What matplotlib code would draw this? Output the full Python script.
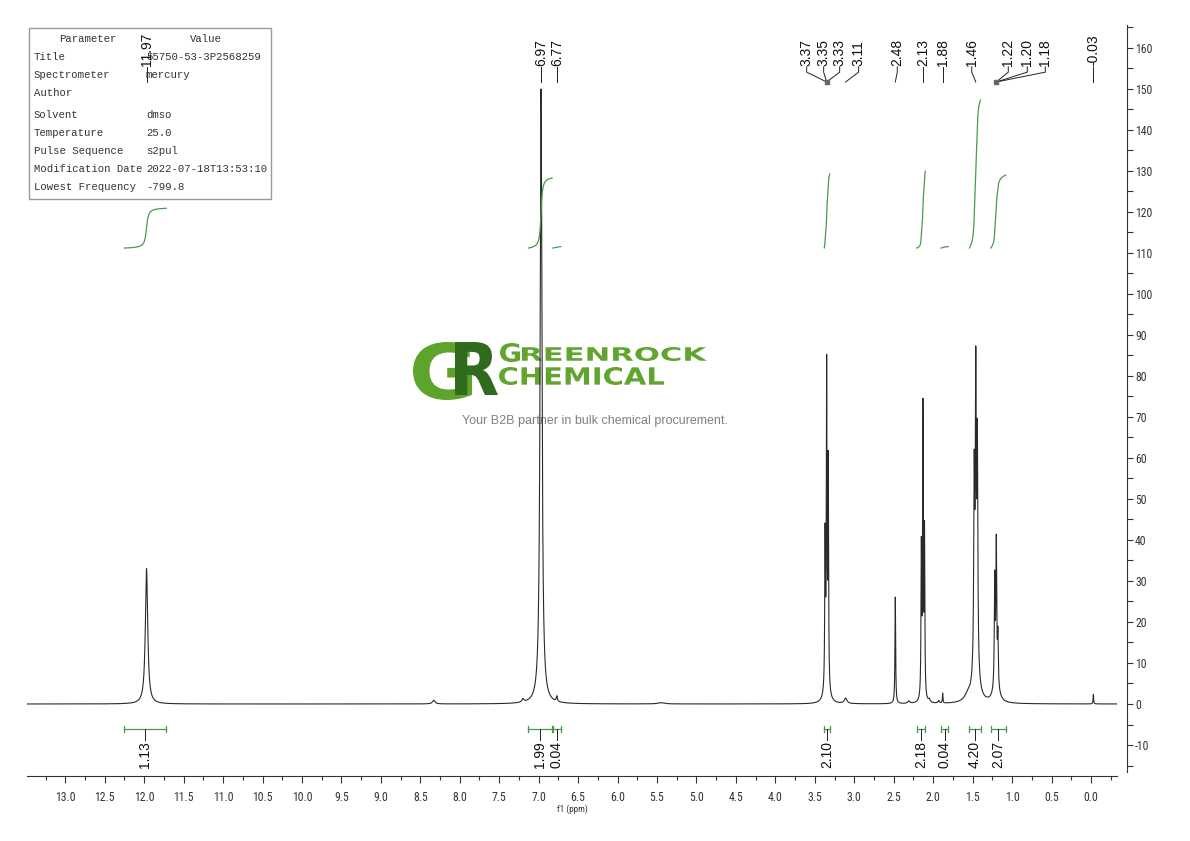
import numpy as np
import matplotlib
matplotlib.use('Agg')
import matplotlib.pyplot as plt
import matplotlib.transforms as mtransforms
from matplotlib import font_manager
from matplotlib.font_manager import FontProperties
from matplotlib.textpath import TextPath
from matplotlib.patches import PathPatch, Rectangle
from matplotlib.ticker import MultipleLocator, FormatStrFormatter

# Peak list: shift (ppm), height, half width (ppm)
peak_ppm = [11.97, 8.33, 7.20, 6.97, 6.77, 5.45,
            3.37, 3.35, 3.33, 3.35, 3.11, 2.48, 2.31,
            2.15, 2.13, 2.11, 2.05, 1.93, 1.88,
            1.48, 1.46, 1.44, 1.46, 1.56,
            1.22, 1.20, 1.18, 1.20, -0.03]
peak_height = [33.0, 0.9, 0.8, 150.0, 1.3, 0.3,
               36.0, 76.0, 54.0, 4.0, 1.3, 26.0, 0.6,
               36.0, 70.0, 40.0, 0.7, 0.6, 2.4,
               46.0, 68.0, 54.0, 8.0, 1.5,
               26.0, 34.0, 12.0, 4.0, 2.3]
peak_hwhm = [0.018, 0.02, 0.015, 0.014, 0.008, 0.05,
             0.005, 0.005, 0.005, 0.03, 0.02, 0.005, 0.015,
             0.005, 0.005, 0.005, 0.012, 0.01, 0.004,
             0.007, 0.007, 0.007, 0.04, 0.05,
             0.006, 0.006, 0.006, 0.04, 0.004]

# Peak picking labels at the top, and the shift each leader line points to
shift_labels = ['11.97', '6.97', '6.77', '3.37', '3.35', '3.33', '3.11', '2.48',
                '2.13', '1.88', '1.46', '1.22', '1.20', '1.18', '-0.03']
shift_anchor = [11.97, 6.97, 6.77, 3.35, 3.35, 3.35, 3.11, 2.48,
                2.13, 1.88, 1.46, 1.20, 1.20, 1.20, -0.03]

# Integration regions (ppm) and values
int_from = [12.25, 7.13, 6.82, 3.38, 2.21, 1.90, 1.54, 1.27]
int_to = [11.72, 6.83, 6.72, 3.31, 2.10, 1.81, 1.40, 1.08]
int_value = ['1.13', '1.99', '0.04', '2.10', '2.18', '0.04', '4.20', '2.07']

param_names = ['Title', 'Spectrometer', 'Author', 'Solvent', 'Temperature',
               'Pulse Sequence', 'Modification Date', 'Lowest Frequency']
param_values = ['55750-53-3P2568259', 'mercury', '', 'dmso', '25.0',
                's2pul', '2022-07-18T13:53:10', '-799.8']

# ---- fonts
names = {f.name for f in font_manager.fontManager.ttflist}
narrow = 'DejaVu Sans'
for cand in ('Liberation Sans Narrow', 'Roboto Condensed', 'DejaVu Sans Condensed'):
    if cand in names:
        narrow = cand
        break
tick_size = 8.5 if narrow != 'DejaVu Sans' else 7
sans = 'Liberation Sans' if 'Liberation Sans' in names else 'DejaVu Sans'
mono = 'Liberation Mono' if 'Liberation Mono' in names else 'DejaVu Sans Mono'

W, H = 1190, 841
fig = plt.figure(figsize=(W / 100, H / 100), dpi=100)
ax = fig.add_axes([27 / W, 1 - 776 / H, (1117 - 27) / W, (776 - 25) / H])
ax.patch.set_facecolor('none')

px_per_ppm = 78.9

# spectrum
x = np.linspace(13.485, -0.33, 30000)
y = np.zeros_like(x)
for p, h, w in zip(peak_ppm, peak_height, peak_hwhm):
    y += h / (1 + ((x - p) / w) ** 2)
ax.plot(x, y, color='#2a2a2a', lw=0.8)

ax.set_xlim(13.485, -0.33)
ax.set_ylim(-17.56, 165.6)

# integral curves and brackets
int_base = 111.2
int_scale = 8.59
green = '#4a9a4a'
for hi, lo, val in zip(int_from, int_to, int_value):
    m = (x <= hi) & (x >= lo)
    c = np.cumsum(y[m])
    c = c / c[-1] * float(val) * int_scale
    ax.plot(x[m], int_base + c, color=green, lw=0.9)
    yb = -6.1
    mid = (hi + lo) / 2
    ax.plot([hi, lo], [yb, yb], color=green, lw=0.9)
    for e in (hi, lo):
        ax.plot([e, e], [yb - 0.8, yb + 0.8], color=green, lw=0.9)
    ax.plot([mid, mid], [yb, -8.7], color='#222222', lw=0.7)
    ax.text(mid, -9.0, val, rotation=90, ha='center', va='top',
            fontsize=10, family=sans, color='#111111')

# peak labels with leader lines
label_dx = [0, 0, 0, -20, -3, 13, 13, 2, 0, 0, -4, 12, 31, 49, 0]
y_txt = 155.6
y_knee = 154.1
y_end = 151.7
for s, a, dx in zip(shift_labels, shift_anchor, label_dx):
    lx = a - dx / px_per_ppm
    ax.text(lx, y_txt, s, rotation=90, ha='center', va='bottom',
            fontsize=10, family=sans, color='#111111', clip_on=False)
    ax.plot([lx, lx, a], [y_txt - 0.2, y_knee, y_end], color='#222222', lw=0.7)
for a in (3.35, 1.20):
    ax.plot([a], [y_end], 's', ms=2.5, color='#666666')

# axes styling
for side in ('top', 'left'):
    ax.spines[side].set_visible(False)
ax.spines['right'].set_position(('outward', 7))
ax.spines['right'].set_bounds(-16.5, 165.6)
for side in ('right', 'bottom'):
    ax.spines[side].set_color('#333333')
    ax.spines[side].set_linewidth(0.8)

ax.xaxis.set_major_locator(MultipleLocator(0.5))
ax.xaxis.set_minor_locator(MultipleLocator(0.25))
ax.xaxis.set_major_formatter(FormatStrFormatter('%.1f'))
ax.yaxis.tick_right()
ax.yaxis.set_major_locator(MultipleLocator(10))
ax.yaxis.set_minor_locator(MultipleLocator(5))
ax.yaxis.set_major_formatter(FormatStrFormatter('%d'))
ax.tick_params(axis='x', which='major', length=5, width=0.8, pad=6, labelsize=tick_size, colors='#333333')
ax.tick_params(axis='x', which='minor', length=3, width=0.8, colors='#333333')
ax.tick_params(axis='y', which='major', length=4, width=0.8, pad=2, labelsize=tick_size, colors='#333333')
ax.tick_params(axis='y', which='minor', length=4, width=0.8, colors='#333333')
for lab in ax.get_xticklabels() + ax.get_yticklabels():
    lab.set_family(narrow)
ax.set_xlabel('f1 (ppm)', fontsize=6.5, family=narrow, labelpad=0, color='#333333')


def fx(px):
    return px / W


def fy(py):
    return 1 - py / H


# parameter table
fig.add_artist(Rectangle((fx(29), fy(199)), fx(271) - fx(29), fy(28) - fy(199),
                         transform=fig.transFigure, facecolor='white',
                         edgecolor='#9a9a9a', lw=1.0, zorder=-2))
tkw = dict(fontsize=7.7, family=mono, color='#333333', va='center', zorder=-1)
fig.text(fx(88), fy(39), 'Parameter', ha='center', **tkw)
fig.text(fx(206), fy(39), 'Value', ha='center', **tkw)
row_y = [57, 75, 93, 115, 133, 151, 169, 187]
for ry, n, v in zip(row_y, param_names, param_values):
    fig.text(fx(34), fy(ry), n, ha='left', **tkw)
    fig.text(fx(146), fy(ry), v, ha='left', **tkw)


# watermark
def logo_text(s, x0, x1, ytop, ybot, color):
    tp = TextPath((0, 0), s, size=100, prop=FontProperties(family='DejaVu Sans', weight='bold'))
    bb = tp.get_extents()
    tr = (mtransforms.Affine2D().translate(-bb.x0, -bb.y0)
          .scale((x1 - x0) / bb.width, (ybot - ytop) / bb.height)
          .translate(x0, H - ybot))
    fig.add_artist(PathPatch(tp, transform=tr, facecolor=color, edgecolor='none', zorder=-1))


logo_text('G', 413, 472, 342, 400, '#5ea32c')
logo_text('R', 455, 498, 342, 395, '#2f6a1d')
logo_text('G', 500, 520, 343, 362, '#62a52e')
logo_text('REENROCK', 522, 707, 347, 361, '#62a52e')
logo_text('CHEMICAL', 499, 664, 367, 385, '#62a52e')
fig.text(fx(595), fy(421), 'Your B2B partner in bulk chemical procurement.',
         ha='center', va='center', fontsize=9, family=sans, color='#808080', zorder=-1)

fig.savefig('out.png', dpi=100)
